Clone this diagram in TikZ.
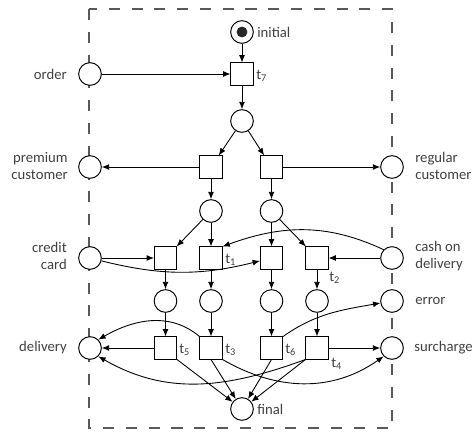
\documentclass[tikz,border=0pt]{standalone}
\usepackage{fontspec}
\setmainfont{Carlito}
\usetikzlibrary{arrows.meta}
\begin{document}
\begin{tikzpicture}[x=0.68pt,y=-0.68pt,
  every node/.style={font=\fontsize{10}{11.6}\selectfont, text=black!75},
  place/.style={draw, fill=white, circle, minimum size=15.4pt, inner sep=0pt, line width=0.65pt},
  trans/.style={draw, fill=white, rectangle, minimum size=15pt, inner sep=0pt, line width=0.65pt},
  lbl/.style={inner sep=0pt},
  arc/.style={-{Latex[length=5pt,width=4pt]}, line width=0.6pt},
  box/.style={draw=black!65, dash pattern=on 7.5pt off 8pt, line width=0.7pt}]
\useasboundingbox (0,0) rectangle (472,433);
\draw[box] (89,9) rectangle (392,428);
% places
\node[place] (init) at (242,32) {};
\fill[black!85] (init.center) circle (3.7pt);
\node[place] (order) at (90,74) {};
\node[place] (p1) at (242,121) {};
\node[place] (prem) at (90,167) {};
\node[place] (reg) at (392,167) {};
\node[place] (pL) at (211,211) {};
\node[place] (pR) at (271.5,211) {};
\node[place] (credit) at (90,258) {};
\node[place] (cash) at (392,258) {};
\node[place] (pA) at (165.5,301) {};
\node[place] (pB) at (211,301) {};
\node[place] (pC) at (271.5,301) {};
\node[place] (pD) at (317,301) {};
\node[place] (error) at (392,301) {};
\node[place] (deliv) at (90,348) {};
\node[place] (surch) at (392,348) {};
\node[place] (final) at (242,409) {};
% transitions
\node[trans] (t7) at (242,74) {};
\node[trans] (tL) at (211,167) {};
\node[trans] (tR) at (271.5,167) {};
\node[trans] (tA) at (165.5,258) {};
\node[trans] (t1) at (211,258) {};
\node[trans] (tC) at (271.5,258) {};
\node[trans] (t2) at (317,258) {};
\node[trans] (t5) at (165.5,348) {};
\node[trans] (t3) at (211,348) {};
\node[trans] (t6) at (271.5,348) {};
\node[trans] (t4) at (317,348) {};
% labels
\node[lbl,anchor=west] (linit) at (257,32) {initial};
\node[lbl,anchor=west] (lfinal) at (257,409) {final};
\node[lbl,anchor=east] (lorder) at (67,74) {order};
\node[lbl,anchor=east,align=right] (lprem) at (68,166) {premium\\customer};
\node[lbl,anchor=west,align=left] (lreg) at (415,166) {regular\\customer};
\node[lbl,anchor=east,align=right] (lcredit) at (67,256) {credit\\card};
\node[lbl,anchor=west,align=left] (lcash) at (415,256) {cash on\\delivery};
\node[lbl,anchor=west] (lerror) at (415,301) {error};
\node[lbl,anchor=east] (ldeliv) at (67,348) {delivery};
\node[lbl,anchor=west] (lsurch) at (414,348) {surcharge};
\node[lbl,anchor=west] (l7) at (256,76) {t\textsubscript{7}};
\node[lbl,anchor=west] (l1) at (225,260) {t\textsubscript{1}};
\node[lbl,anchor=west] (l2) at (329,278) {t\textsubscript{2}};
\node[lbl,anchor=west] (l5) at (179,350) {t\textsubscript{5}};
\node[lbl,anchor=west] (l3) at (225,350) {t\textsubscript{3}};
\node[lbl,anchor=west] (l6) at (285,350) {t\textsubscript{6}};
\node[lbl,anchor=west] (l4) at (331,364) {t\textsubscript{4}};
% arcs
\draw[arc] (init) -- (t7);
\draw[arc] (order) -- (t7);
\draw[arc] (t7) -- (p1);
\draw[arc] (p1) -- (tL);
\draw[arc] (p1) -- (tR);
\draw[arc] (tL) -- (prem);
\draw[arc] (tR) -- (reg);
\draw[arc] (tL) -- (pL);
\draw[arc] (tR) -- (pR);
\draw[arc] (pL) -- (tA);
\draw[arc] (pL) -- (t1);
\draw[arc] (pR) -- (tC);
\draw[arc] (pR) -- (t2);
\draw[arc] (credit) -- (tA);
\draw[arc] (credit) to[bend right=14] (tC);
\draw[arc] (cash) -- (t2);
\draw[arc] (cash.north west) to[out=155, in=20] (t1.north east);
\draw[arc] (tA) -- (pA);
\draw[arc] (t1) -- (pB);
\draw[arc] (tC) -- (pC);
\draw[arc] (t2) -- (pD);
\draw[arc] (pA) -- (t5);
\draw[arc] (pB) -- (t3);
\draw[arc] (pC) -- (t6);
\draw[arc] (pD) -- (t4);
\draw[arc] (t5) -- (deliv);
\draw[arc] (t3.north west) to[out=140, in=30] (deliv.north east);
\draw[arc] (t4.south west) to[out=200, in=-30] (deliv.south east);
\draw[arc] (t6.north east) to[out=35, in=190] (error);
\draw[arc] (t4) -- (surch);
\draw[arc] (t3.south east) to[out=-30, in=215] (surch.south west);
\draw[arc] (t5.south east) -- (final);
\draw[arc] (t3.south) -- (final);
\draw[arc] (t6.south) -- (final);
\draw[arc] (t4.south west) -- (final);
\end{tikzpicture}
\end{document}
